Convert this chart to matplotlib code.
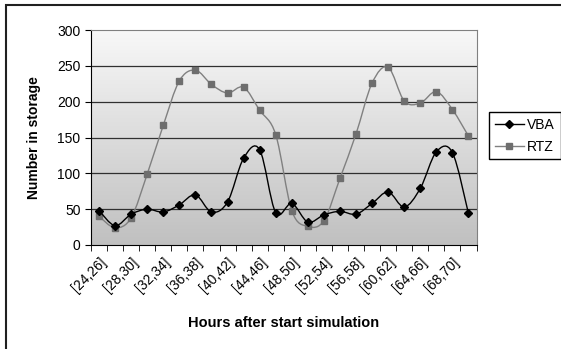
import numpy as np
import matplotlib.pyplot as plt
import matplotlib.transforms as mtransforms
from matplotlib.colors import LinearSegmentedColormap
from matplotlib.path import Path
from matplotlib.patches import PathPatch, Rectangle
from matplotlib.lines import Line2D

plt.rcParams['font.family'] = ['Liberation Sans', 'DejaVu Sans']

# time bins [24,26] ... [70,72]
bins = [f"[{h},{h + 2}]" for h in range(24, 72, 2)]
vba = [48, 27, 43, 50, 46, 56, 70, 46, 60, 121, 133, 45,
       58, 32, 42, 47, 43, 58, 74, 53, 79, 130, 129, 44]
rtz = [40, 24, 38, 99, 167, 229, 244, 224, 212, 220, 188, 154,
       48, 26, 34, 93, 155, 226, 248, 201, 198, 214, 189, 152]
y_ticks = [0, 50, 100, 150, 200, 250, 300]


def smooth_path(x, y):
    """Excel-like smoothed line: cubic Bezier through every point."""
    pts = np.column_stack([x, y]).astype(float)
    verts = [pts[0]]
    codes = [Path.MOVETO]
    n = len(pts)
    for i in range(n - 1):
        p0 = pts[max(i - 1, 0)]
        p1 = pts[i]
        p2 = pts[i + 1]
        p3 = pts[min(i + 2, n - 1)]
        c1 = p1 + (p2 - p0) / 6.0
        c2 = p2 - (p3 - p1) / 6.0
        verts += [c1, c2, p2]
        codes += [Path.CURVE4] * 3
    return Path(verts, codes)


W, H = 561, 349
fig = plt.figure(figsize=(W / 100, H / 100), dpi=100, facecolor='white')

# outer chart frame (cut off on the right and bottom)
fig.patches.append(Rectangle((6 / W, -0.05), 1.1, (H - 5) / H + 0.05,
                             transform=fig.transFigure, fill=False,
                             edgecolor='#202020', linewidth=1.5))

ax = fig.add_axes([91 / W, (H - 245) / H, (476.5 - 91) / W, (245 - 30) / H])
x = np.arange(len(bins))
ax.set_xlim(-0.5, len(bins) - 0.5)
ax.set_ylim(0, 300)

# gray gradient background
grad = np.linspace(0, 1, 256).reshape(-1, 1)
cmap = LinearSegmentedColormap.from_list('g', ['#c0c0c0', '#f8f8f8'])
ax.imshow(grad, cmap=cmap, origin='lower', aspect='auto',
          extent=[-0.5, len(bins) - 0.5, 0, 300], zorder=0)

for yv in y_ticks[1:-1]:
    ax.axhline(yv, color='#303030', linewidth=0.9, zorder=1)

ax.add_patch(PathPatch(smooth_path(x, rtz), fill=False, edgecolor='#808080',
                       linewidth=1.0, zorder=3))
ax.plot(x, rtz, linestyle='none', marker='s', markersize=4.5,
        color='#6e6e6e', zorder=4)
ax.add_patch(PathPatch(smooth_path(x, vba), fill=False, edgecolor='black',
                       linewidth=1.0, zorder=5))
ax.plot(x, vba, linestyle='none', marker='D', markersize=4.2,
        color='black', zorder=6)

ax.set_yticks(y_ticks)
ax.tick_params(axis='y', labelsize=10, length=4, direction='out')
ax.set_xticks(x[::2])
ax.set_xticklabels(bins[::2], rotation=45, ha='right', va='top',
                   rotation_mode='anchor', fontsize=10)
shift = mtransforms.ScaledTranslation(-6 / 100, -2 / 100, fig.dpi_scale_trans)
for lbl in ax.get_xticklabels():
    lbl.set_transform(lbl.get_transform() + shift)
ax.set_xticks(np.arange(-0.5, len(bins), 1), minor=True)
ax.tick_params(axis='x', which='major', length=0, pad=7)
ax.tick_params(axis='x', which='minor', length=4, direction='out')

for side in ('top', 'right'):
    ax.spines[side].set_color('#808080')
for side in ('left', 'bottom'):
    ax.spines[side].set_color('black')

ax.set_ylabel('Number in storage', fontsize=10, fontweight='bold', labelpad=12)
ax.set_xlabel('Hours after start simulation', fontsize=10.5,
              fontweight='bold', labelpad=15)

handles = [Line2D([], [], color='black', marker='D', markersize=4.2, linewidth=1),
           Line2D([], [], color='#808080', marker='s', markersize=4.5,
                  markerfacecolor='#6e6e6e', markeredgecolor='#6e6e6e',
                  linewidth=1)]
fig.legend(handles, ['VBA', 'RTZ'], loc='upper left',
           bbox_to_anchor=(489 / W, (H - 112) / H), fontsize=10,
           frameon=True, fancybox=False, edgecolor='black', framealpha=1,
           handlelength=2.1, handletextpad=0.25, borderpad=0.4,
           labelspacing=0.6, borderaxespad=0)

fig.savefig('out.png', dpi=100)
